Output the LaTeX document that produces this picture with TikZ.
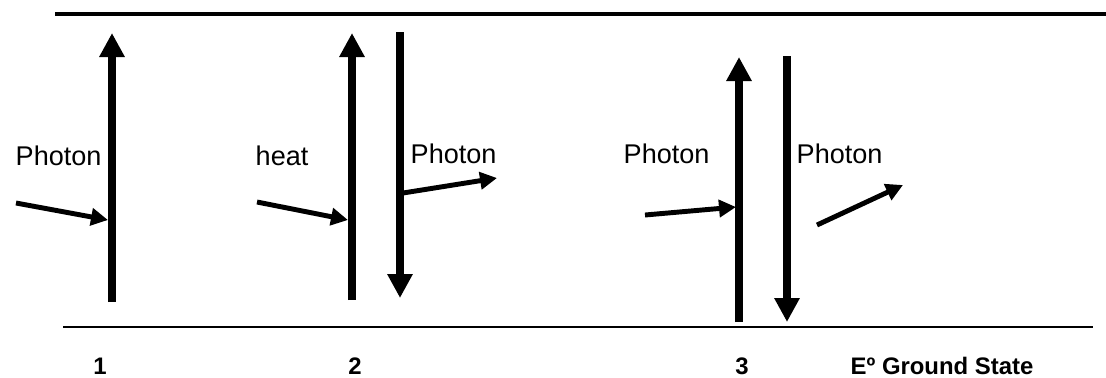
\documentclass[tikz,border=0pt]{standalone}
\usepackage{fontspec}
\setmainfont{Liberation Sans}
\usetikzlibrary{arrows.meta,positioning}

\begin{document}
\begin{tikzpicture}[
  font=\fontsize{7.7}{9}\selectfont,
  level/.style = {line width=1pt},
  jump/.style  = {line width=2pt, -{Triangle[length=2.4mm, width=2.4mm]}},
  ray/.style   = {line width=1.4pt, -{Triangle[length=1.7mm, width=1.7mm]}},
  lbl/.style   = {inner sep=0pt, anchor=base west},
  num/.style   = {inner sep=0pt, anchor=base,
                  font=\fontsize{6.8}{8}\selectfont\bfseries}
]
\useasboundingbox (0,0) rectangle (11.06,3.77);

% energy levels
\coordinate (top-l) at (0.55,3.63);
\coordinate (top-r) at (11.06,3.63);
\coordinate (gnd-l) at (0.63,0.50);
\coordinate (gnd-r) at (10.93,0.50);
\draw[level] (top-l) -- (top-r);
\draw[level, line width=0.8pt] (gnd-l) -- (gnd-r);

% case 1
\coordinate (up1-s) at (1.12,0.75);
\coordinate (up1-e) at (1.12,3.44);
\coordinate (in1-s) at (0.16,1.74);
\coordinate (in1-e) at (1.08,1.57);
\draw[jump] (up1-s) -- (up1-e);
\draw[ray]  (in1-s) -- (in1-e);

% case 2
\coordinate (up2-s) at (3.52,0.77);
\coordinate (up2-e) at (3.52,3.44);
\coordinate (in2-s) at (2.57,1.75);
\coordinate (in2-e) at (3.48,1.57);
\coordinate (dn2-s) at (4.00,3.45);
\coordinate (dn2-e) at (4.00,0.79);
\coordinate (out2-s) at (4.03,1.84);
\coordinate (out2-e) at (4.97,1.99);
\draw[jump] (up2-s) -- (up2-e);
\draw[ray]  (in2-s) -- (in2-e);
\draw[jump] (dn2-s) -- (dn2-e);
\draw[ray]  (out2-s) -- (out2-e);

% case 3
\coordinate (up3-s) at (7.39,0.55);
\coordinate (up3-e) at (7.39,3.20);
\coordinate (in3-s) at (6.45,1.62);
\coordinate (in3-e) at (7.36,1.70);
\coordinate (dn3-s) at (7.87,3.21);
\coordinate (dn3-e) at (7.87,0.55);
\coordinate (out3-s) at (8.17,1.52);
\coordinate (out3-e) at (9.03,1.92);
\draw[jump] (up3-s) -- (up3-e);
\draw[ray]  (in3-s) -- (in3-e);
\draw[jump] (dn3-s) -- (dn3-e);
\draw[ray]  (out3-s) -- (out3-e);

% labels
\node[lbl] (ph1)  at (0.15,2.12) {Photon};
\node[lbl] (heat) at (2.55,2.12) {heat};
\node[lbl] (ph2)  at (4.10,2.14) {Photon};
\node[lbl] (ph3)  at (6.23,2.14) {Photon};
\node[lbl] (ph4)  at (7.96,2.14) {Photon};

\node[num] (n1) at (1.00,0.03) {1};
\node[num] (n2) at (3.55,0.03) {2};
\node[num] (n3) at (7.42,0.03) {3};
\node[num, anchor=base west] (gs) at (8.50,0.03) {Eº Ground State};

\end{tikzpicture}
\end{document}
